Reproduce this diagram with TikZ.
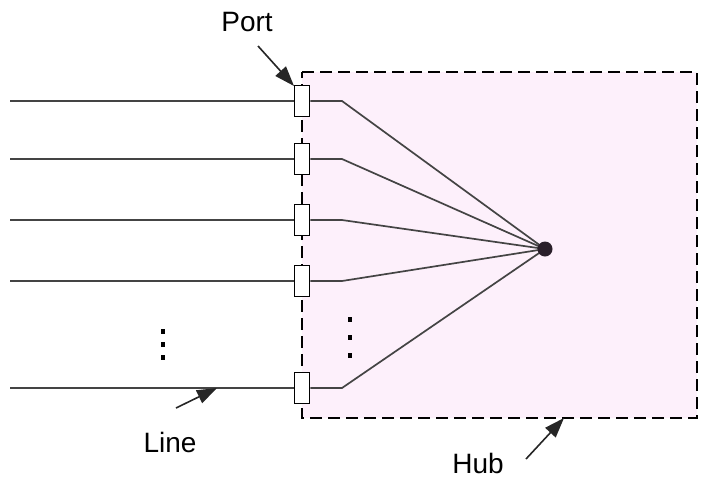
\documentclass[tikz,border=0pt]{standalone}
\usepackage{fontspec}
\setmainfont{Liberation Sans}
\usetikzlibrary{arrows.meta}
\definecolor{hubfill}{HTML}{FDF0FB}
\definecolor{wire}{HTML}{444444}
\definecolor{hubdot}{HTML}{2A1F2A}
\tikzset{
  portbox/.style={draw=black, line width=1.8pt, fill=white, minimum width=15pt, minimum height=31pt, inner sep=0pt},
  wireline/.style={draw=wire, line width=1.7pt},
  pointer/.style={draw=black!85, line width=1.6pt, -{Triangle[length=20pt,width=14pt]}},
  lbl/.style={font=\fontsize{28}{32}\selectfont, inner sep=0pt},
  vdot/.style={fill=black, inner sep=0pt, minimum width=3.5pt, minimum height=5pt}
}
\begin{document}
\begin{tikzpicture}[x=1pt,y=-1pt]
\useasboundingbox (0,0) rectangle (702,480);
% hub area
\fill[hubfill] (302,72) rectangle (697,418);
\draw[black, line width=1.7pt, dash pattern=on 12pt off 6pt] (302,72) -- (697,72) -- (697,418) -- (302,418) -- cycle;
% hub centre
\coordinate (hub) at (545,249);
% ports and lines
\foreach \i/\y in {1/101, 2/159, 3/220, 4/281, 5/388} {
  \coordinate (w\i) at (10,\y);
  \coordinate (k\i) at (342,\y);
  \node[portbox] (p\i) at (302,\y) {};
  \draw[wireline] (w\i) -- (p\i.west);
  \draw[wireline] (p\i.east) -- (k\i) -- (hub);
}
\node[circle, fill=hubdot, inner sep=0pt, minimum size=15pt] (hubdot) at (hub) {};
% ellipsis dots
\foreach \y in {331,344,357} {
  \node[vdot] at (163,\y) {};
}
\foreach \y in {319,337,355} {
  \node[vdot] at (350,\y) {};
}
% labels
\node[lbl] (portlbl) at (247,22) {Port};
\coordinate (portend) at (294,86);
\draw[pointer] (258,46) -- (portend);
\node[lbl] (linelbl) at (170,442) {Line};
\coordinate (lineend) at (217,388);
\draw[pointer] (176,408) -- (lineend);
\node[lbl] (hublbl) at (478,463) {Hub};
\coordinate (hubend) at (564,418);
\draw[pointer] (526,459) -- (hubend);
\end{tikzpicture}
\end{document}
